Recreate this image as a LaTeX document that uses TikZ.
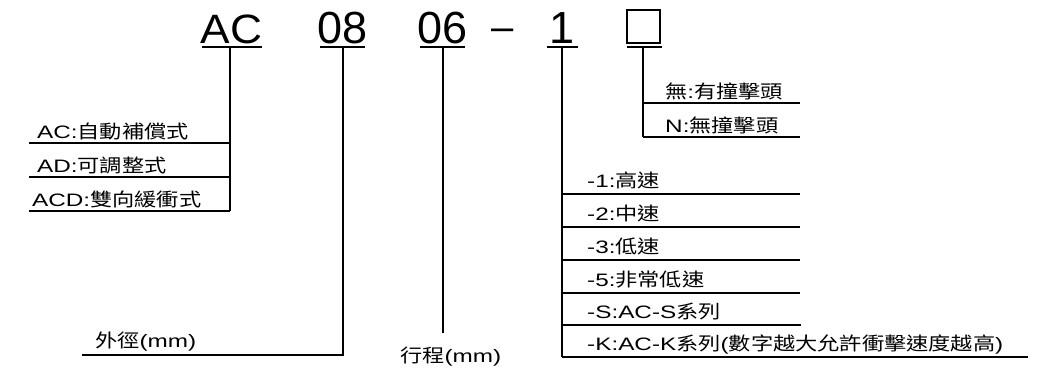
\documentclass[tikz,border=0pt]{standalone}
\usepackage{fontspec}
\setmainfont{Liberation Sans}
\newfontfamily\latfont[FakeStretch=1.35]{Liberation Sans}
\newfontfamily\cjk[FakeStretch=1.2]{Noto Sans CJK TC}
\newfontfamily\acfont[FakeStretch=1.08]{Liberation Sans}
\newfontfamily\digfont{Liberation Sans}
\newcommand{\zh}[1]{{\cjk\fontsize{18.5}{20}\selectfont #1}}
\tikzset{
  lbl/.style={anchor=base west, inner sep=0pt, font=\latfont\fontsize{18}{20}\selectfont},
  code/.style={anchor=base, inner sep=0pt},
  rule/.style={line width=1.6pt},
  uline/.style={line width=1.5pt},
}
\begin{document}
\begin{tikzpicture}[x=1pt,y=-1pt]
\useasboundingbox[fill=white] (0,0) rectangle (1059,370);

% ---- model code ----
\node[code, font=\acfont\fontsize{41}{45}\selectfont] (ac) at (231.7,43) {AC};
\node[code, font=\digfont\fontsize{45}{50}\selectfont] (d08) at (342.5,43) {08};
\node[code, font=\digfont\fontsize{45}{50}\selectfont] (d06) at (442.5,43) {06};
\node[code, font=\digfont\fontsize{40}{45}\selectfont] (dash) at (502.5,40) {–};
\node[code, font=\digfont\fontsize{45}{50}\selectfont] (one) at (562.5,43) {1};
\node[draw, line width=1.5pt, minimum width=33pt, minimum height=33pt, inner sep=0pt] (box) at (643.5,26.5) {};

% underlines
\coordinate (acL) at (201.7,47); \coordinate (acR) at (261.7,47);
\coordinate (d08L) at (320,47); \coordinate (d08R) at (365,47);
\coordinate (d06L) at (420,47); \coordinate (d06R) at (465,47);
\coordinate (oneL) at (547,47); \coordinate (oneR) at (578,47);
\coordinate (boxL) at (626.7,47); \coordinate (boxR) at (661.7,47);
\draw[uline] (acL) -- (acR);
\draw[uline] (d08L) -- (d08R);
\draw[uline] (d06L) -- (d06R);
\draw[uline] (oneL) -- (oneR);
\draw[uline] (boxL) -- (boxR);

% ---- AC group ----
\coordinate (acT) at (230,47);
\coordinate (acB) at (230,211);
\draw[rule] (acT) -- (acB);
\coordinate (a1L) at (29,143); \coordinate (a1R) at (230,143);
\coordinate (a2L) at (29,177); \coordinate (a2R) at (230,177);
\coordinate (a3L) at (29,211); \coordinate (a3R) at (230,211);
\draw[rule] (a1L) -- (a1R);
\draw[rule] (a2L) -- (a2R);
\draw[rule] (a3L) -- (a3R);
\node[lbl] (t1) at (37,138) {AC:\zh{自動補償式}};
\node[lbl] (t2) at (37,172) {AD:\zh{可調整式}};
\node[lbl] (t3) at (32,206) {ACD:\zh{雙向緩衝式}};

% ---- 08 group ----
\coordinate (d08T) at (343,47);
\coordinate (d08B) at (343,355);
\coordinate (d08E) at (81.7,355);
\draw[rule] (d08T) -- (d08B) -- (d08E);
\node[lbl] (od) at (95,347) {\zh{外徑}(mm)};

% ---- 06 group ----
\coordinate (d06T) at (443,47);
\coordinate (d06B) at (443,333);
\draw[rule] (d06T) -- (d06B);
\node[lbl] (st) at (400,362) {\zh{行程}(mm)};

% ---- speed group ----
\coordinate (oneT) at (562,47);
\coordinate (oneB) at (562,357);
\draw[rule] (oneT) -- (oneB);
\foreach \y/\xr in {194/800,227/800,260/800,293/800,325/801,357/1028}{
  \draw[rule] (562,\y) -- (\xr,\y);
}
\node[lbl] (s1) at (587,187) {-1:\zh{高速}};
\node[lbl] (s2) at (587,220) {-2:\zh{中速}};
\node[lbl] (s3) at (587,253) {-3:\zh{低速}};
\node[lbl] (s5) at (587,286) {-5:\zh{非常低速}};
\node[lbl] (sS) at (587,318) {-S:AC-S\zh{系列}};
\node[lbl] (sK) at (587,350) {-K:AC-K\zh{系列}(\zh{數字越大允許衝擊速度越高})};

% ---- box group ----
\coordinate (boxT) at (643,47);
\coordinate (boxB) at (643,137);
\draw[rule] (boxT) -- (boxB);
\coordinate (b1R) at (800,103); \coordinate (b1L) at (643,103);
\coordinate (b2R) at (800,137);
\draw[rule] (b1L) -- (b1R);
\draw[rule] (boxB) -- (b2R);
\node[lbl] (n1) at (665,98.5) {\zh{無}:\zh{有撞擊頭}};
\node[lbl] (n2) at (665,132.5) {N:\zh{無撞擊頭}};
\end{tikzpicture}
\end{document}
